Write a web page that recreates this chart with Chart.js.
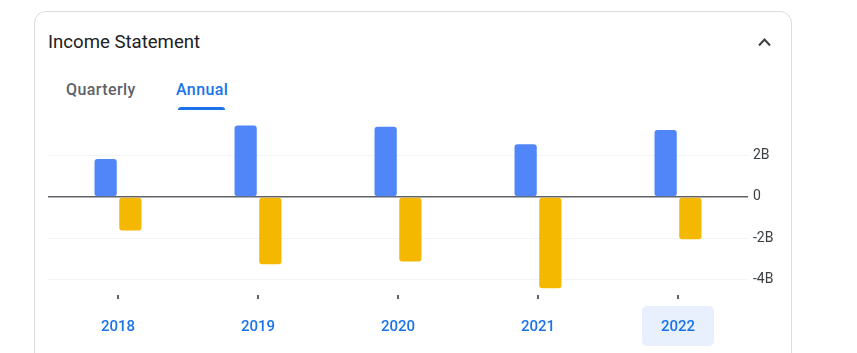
<!DOCTYPE html>
<html>
<head>
<meta charset="utf-8">
<script src="https://cdn.jsdelivr.net/npm/chart.js@4.4.0/dist/chart.umd.min.js"></script>
<style>
  html,body{margin:0;padding:0;background:#fff;width:857px;height:353px;overflow:hidden;font-family:Roboto,"Open Sans",sans-serif;}
  .card{position:absolute;left:34px;top:11px;width:758px;height:400px;border:1px solid #dadce0;border-radius:12px;box-sizing:border-box;}
  .title{position:absolute;left:48px;top:30px;font-size:18.6px;color:#202124;line-height:24px;}
  .chev{position:absolute;left:758px;top:36px;}
  .tab{position:absolute;top:80px;font-size:16px;line-height:20px;font-weight:500;letter-spacing:0.4px;}
  .q{left:66px;color:#5f6368;}
  .a{left:176px;color:#1a73e8;}
  .ul{position:absolute;left:178px;top:107px;width:47px;height:3px;background:#1a73e8;border-radius:3px 3px 0 0;}
  .wrap{position:absolute;left:48px;top:110px;width:742px;height:243px;}
</style>
</head>
<body>
<div class="card"></div>
<div class="title">Income Statement</div>
<svg class="chev" width="14" height="14" viewBox="0 0 14 14"><polyline points="1,9.5 6.5,3.5 12,9.5" fill="none" stroke="#3c4043" stroke-width="2"/></svg>
<div class="tab q">Quarterly</div>
<div class="tab a">Annual</div>
<div class="ul"></div>
<div class="wrap"><canvas id="c"></canvas></div>
<script>
const categories = ['2018', '2019', '2020', '2021', '2022'];
const revenue = [1.84e9, 3.46e9, 3.41e9, 2.56e9, 3.25e9];
const netIncome = [-1.63e9, -3.27e9, -3.14e9, -4.43e9, -2.05e9];
const yTickValues = [-4e9, -2e9, 0, 2e9];
const yTickLabels = ['-4B', '-2B', '0', '2B'];
const selectedIndex = 4;

const highlight = {
  id: 'highlight',
  beforeDraw(chart) {
    const x = chart.scales.x;
    const ctx = chart.ctx;
    const cx = x.getPixelForValue(selectedIndex);
    const w = 72, h = 40, top = x.top + 11;
    ctx.save();
    ctx.fillStyle = '#e8f0fe';
    ctx.beginPath();
    ctx.roundRect(cx - w / 2, top, w, h, 5);
    ctx.fill();
    ctx.restore();
  }
};

new Chart(document.getElementById('c'), {
  type: 'bar',
  data: {
    labels: categories,
    datasets: [
      { label: 'Revenue', data: revenue, backgroundColor: '#5086f8', borderRadius: 3, borderSkipped: false, categoryPercentage: 0.353, barPercentage: 0.9 },
      { label: 'Net income', data: netIncome, backgroundColor: '#f5b800', borderRadius: 3, borderSkipped: false, categoryPercentage: 0.353, barPercentage: 0.9 }
    ]
  },
  options: {
    responsive: true,
    maintainAspectRatio: false,
    animation: false,
    layout: { padding: { top: 8, left: 0, right: 0, bottom: 0 } },
    plugins: { legend: { display: false }, tooltip: { enabled: false } },
    scales: {
      x: {
        grid: { display: true, drawOnChartArea: false, drawTicks: true, tickLength: 4, color: '#5f6368', lineWidth: 2, offset: false },
        border: { display: false },
        ticks: { color: '#1a73e8', padding: 19, font: { family: 'Roboto', size: 15, weight: '500' }, maxRotation: 0 },
        afterFit(s) { s.height = 58; s.paddingLeft = 0; s.paddingRight = 0; }
      },
      y: {
        position: 'right',
        min: -4.76e9,
        max: 3.83e9,
        afterBuildTicks(s) { s.ticks = yTickValues.map(v => ({ value: v })); },
        grid: { drawTicks: false, color: c => (c.tick && c.tick.value === 0) ? '#5f6368' : '#f1f3f4', lineWidth: c => (c.tick && c.tick.value === 0) ? 1.5 : 1 },
        border: { display: false },
        ticks: {
          padding: 5,
          color: '#3c4043',
          font: { family: 'Roboto', size: 14 },
          callback: (v) => { const i = yTickValues.indexOf(v); return i >= 0 ? yTickLabels[i] : null; }
        },
        afterFit(s) { s.width = 42; s.paddingTop = 0; s.paddingBottom = 0; }
      }
    }
  },
  plugins: [highlight]
});
</script>
</body>
</html>
